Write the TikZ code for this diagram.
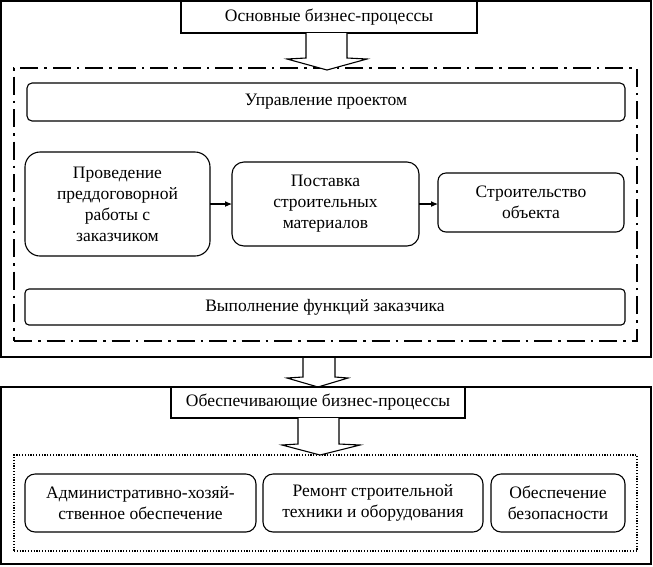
\documentclass[tikz,border=0pt]{standalone}
\usepackage{fontspec}
\setmainfont{Liberation Serif}
\usetikzlibrary{arrows.meta}
\begin{document}
\begin{tikzpicture}[x=1pt,y=-1pt,
  every node/.style={font=\fontsize{17.5}{21}\selectfont, outer sep=0pt},
  frame/.style={draw, line width=1.1pt, inner sep=0pt, anchor=north west},
  titlebox/.style={draw, fill=white, line width=1.1pt, inner sep=0pt, anchor=north west},
  pbox/.style={draw, line width=1.1pt, inner sep=0pt, anchor=north west, align=center},
  ddframe/.style={draw, line width=2pt, dash pattern=on 18pt off 6pt on 2.5pt off 6pt, inner sep=0pt, anchor=north west},
  dotframe/.style={draw, line width=1.2pt, dash pattern=on 1.2pt off 1.6pt, inner sep=0pt, anchor=north west},
  hollow/.style={draw, fill=white, line width=1.1pt, line join=miter},
  link/.style={line width=1.1pt, -{Latex[length=7pt,width=6pt]}}
]
\fill[white] (0,0) rectangle (653,566);
\useasboundingbox (0,0) rectangle (653,566);

% upper block
\node[frame, minimum width=650pt, minimum height=356pt] (f1) at (1,1) {};
\node[ddframe, minimum width=623pt, minimum height=273pt] (dd) at (14,68) {};
\node[titlebox, minimum width=296pt, minimum height=32pt] (t1) at (181,1) {Основные бизнес-процессы};
\draw[hollow] (306,33) -- (306,58) -- (287,59) -- (327,70) -- (367,59) -- (347,58) -- (347,33);

\node[pbox, rounded corners=5pt, minimum width=598pt, minimum height=38pt] (up) at (27,83) {Управление проектом};
\node[pbox, rounded corners=15pt, minimum width=185pt, minimum height=104pt] (A) at (25,152)
  {Проведение\\преддоговорной\\работы с\\заказчиком};
\node[pbox, rounded corners=12pt, minimum width=187pt, minimum height=84pt] (B) at (232,162)
  {Поставка\\строительных\\материалов};
\node[pbox, rounded corners=8pt, minimum width=186pt, minimum height=59pt] (C) at (438,173)
  {Строительство\\объекта};
\node[pbox, rounded corners=4pt, minimum width=600pt, minimum height=36pt] (vf) at (25,289) {Выполнение функций заказчика};
\draw[link] (A.east) -- (A.east -| B.west);
\draw[link] (B.east) -- (B.east -| C.west);

% lower block
\node[frame, minimum width=650pt, minimum height=177pt] (f2) at (1,387) {};
\draw[hollow] (303,358) -- (303,377) -- (287,378) -- (318,387) -- (348,378) -- (335,377) -- (335,358);
\node[titlebox, minimum width=294pt, minimum height=31pt] (t2) at (171,387) {Обеспечивающие бизнес-процессы};
\node[dotframe, minimum width=623pt, minimum height=96pt] (df) at (14,455) {};
\draw[hollow] (298,418) -- (298,444) -- (282,445) -- (320,455) -- (360,445) -- (339,444) -- (339,418);

\node[pbox, rounded corners=10pt, minimum width=231pt, minimum height=58pt] (D) at (25,474)
  {Административно-хозяй-\\ственное обеспечение};
\node[pbox, rounded corners=10pt, minimum width=220pt, minimum height=58pt] (E) at (263,474)
  {Ремонт строительной\\техники и оборудования};
\node[pbox, rounded corners=10pt, minimum width=134pt, minimum height=58pt] (F) at (491,474)
  {Обеспечение\\безопасности};
\end{tikzpicture}
\end{document}
